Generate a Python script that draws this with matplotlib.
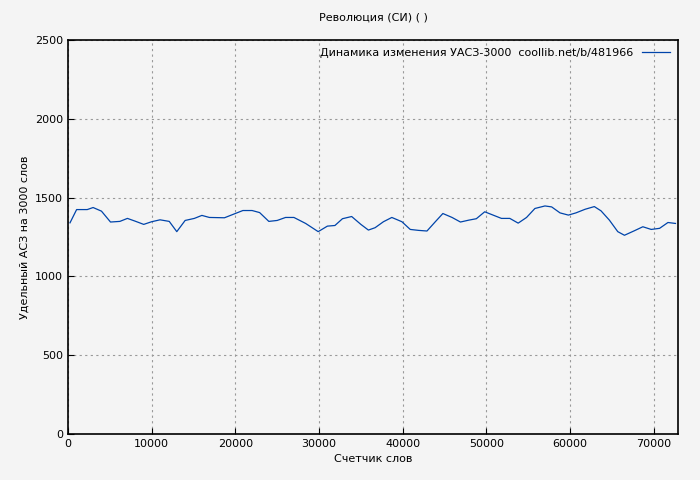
import matplotlib.pyplot as plt

x = [240, 1030, 2300, 3000, 4000, 5080, 6200, 7100, 8000, 9050, 10000, 11000, 12100, 13000,
     14000, 15100, 16000, 16900, 18700, 20900, 22000, 22900, 24000, 25000, 26000, 27000,
     28400, 29900, 31000, 31900, 32800, 33900, 35000, 35900, 36700, 37700, 38700, 39900,
     40900, 41900, 42900, 43900, 44800, 45900, 46900, 47900, 48800, 49800, 50800, 51800,
     52800, 53800, 54800, 55800, 57000, 57800, 58800, 59800, 60700, 61800, 62900, 63700,
     64700, 65700, 66500, 67700, 68700, 69700, 70700, 71700, 72600]
y = [1340, 1424, 1424, 1437, 1414, 1345, 1349, 1368, 1351, 1330, 1347, 1359, 1349, 1284,
     1355, 1368, 1387, 1374, 1372, 1418, 1418, 1405, 1349, 1355, 1374, 1374,
     1336, 1284, 1319, 1323, 1366, 1380, 1330, 1294, 1309, 1347, 1374, 1347,
     1298, 1292, 1288, 1347, 1399, 1374, 1345, 1357, 1366, 1410, 1389, 1368,
     1368, 1338, 1374, 1431, 1447, 1441, 1403, 1389, 1403, 1426, 1443, 1416,
     1357, 1284, 1261, 1290, 1315, 1298, 1305, 1342, 1336]

bg = '#f4f4f4'
fig = plt.figure(figsize=(7, 4.8), dpi=100)
fig.set_facecolor(bg)
ax = fig.add_axes([68/700, 46/480, 610/700, 394/480])
ax.set_facecolor(bg)

ax.plot(x, y, color='#0044aa', linewidth=0.9, label='Динамика изменения УАСЗ-3000  coollib.net/b/481966')
ax.set_xlim(0, 72900)
ax.set_ylim(0, 2500)
ax.set_xticks(range(0, 72000, 10000))
ax.set_yticks(range(0, 2501, 500))
ax.grid(True, color='#999999', linestyle=(0, (2, 3)), linewidth=0.8)
ax.tick_params(labelsize=8, direction='in', length=4)
for s in ax.spines.values():
    s.set_linewidth(1.2)

ax.set_title('Революция (СИ) ( )', fontsize=8, pad=14)
ax.set_xlabel('Счетчик слов', fontsize=8)
ax.set_ylabel('Удельный АСЗ на 3000 слов', fontsize=8)
leg = ax.legend(loc='upper right', fontsize=8, frameon=False, markerfirst=False,
                handlelength=2.5, borderaxespad=0.3)

fig.savefig('out.png', dpi=100, facecolor=bg)
